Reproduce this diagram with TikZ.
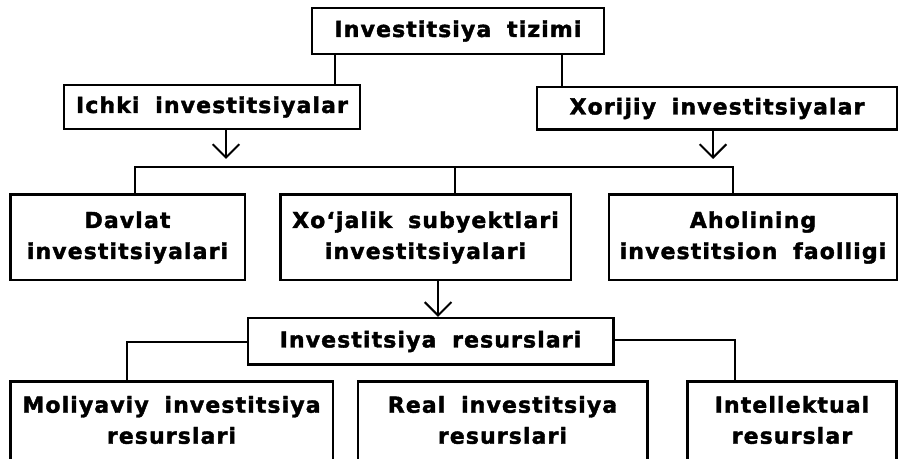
\documentclass[tikz,border=0pt]{standalone}
\usepackage{fontspec}
\setmainfont{DejaVu Sans}[LetterSpace=5,WordSpace=1.8,BoldFeatures={FakeBold=1.8}]
\usetikzlibrary{arrows.meta}

\begin{document}
\begin{tikzpicture}[x=0.75pt, y=-0.75pt, line width=1.5pt,
  box/.style={draw, line width=2pt, align=center, inner sep=0pt,
    font=\bfseries\fontsize{16.5}{23.25}\selectfont},
  lowbox/.style={box, anchor=north, inner ysep=11pt, text depth=80pt},
  arr/.style={-{Straight Barb[length=10pt,width=20pt]}}]
  \useasboundingbox (0,0) rectangle (900,459);
  \clip (0,0) rectangle (900,459);

  % first level
  \node[box, minimum width=219pt, minimum height=34.5pt] (tizim) at (458,31) {Investitsiya tizimi};
  \node[box, minimum width=222pt, minimum height=33pt] (ichki) at (212,107) {Ichki investitsiyalar};
  \node[box, minimum width=270pt, minimum height=32pt] (xorij) at (717,108.5) {Xorijiy investitsiyalar};

  % second level
  \node[box, minimum width=176pt, minimum height=64pt] (davlat) at (127.5,237.5) {Davlat\\investitsiyalari};
  \node[box, minimum width=218pt, minimum height=64pt] (xojal) at (425.5,237.5) {Xo‘jalik subyektlari\\investitsiyalari};
  \node[box, minimum width=216pt, minimum height=64pt] (aholi) at (753,237.5) {Aholining\\investitsion faolligi};

  % resources
  \node[box, minimum width=274pt, minimum height=35pt] (resurs) at (430.5,341.5) {Investitsiya resurslari};
  \node[lowbox, minimum width=242pt] (moliya) at (171.5,380) {Moliyaviy investitsiya\\resurslari};
  \node[lowbox, minimum width=217pt] (real) at (502.5,380) {Real investitsiya\\resurslari};
  \node[lowbox, minimum width=157pt] (intel) at (792,380) {Intellektual\\resurslar};

  \coordinate (t1) at (226,159);
  \coordinate (t2) at (713,159);
  \coordinate (h1) at (135,167);
  \coordinate (h2) at (733,167);
  \coordinate (h3) at (455,167);

  \draw (tizim.south -| 335,0) -- (ichki.north -| 335,0);
  \draw (tizim.south -| 562,0) -- (xorij.north -| 562,0);
  \draw[arr] (ichki.south -| t1) -- (t1);
  \draw[arr] (xorij.south -| t2) -- (t2);

  \draw (davlat.north -| h1) -- (h1) -- (h2) -- (aholi.north -| h2);
  \draw (h3) -- (xojal.north -| h3);

  \draw[arr] (xojal.south -| 438,0) -- (resurs.north -| 438,0);
  \draw (resurs.west |- 0,342) -| (moliya.north -| 127,0);
  \draw (resurs.east |- 0,340) -| (intel.north -| 735,0);
\end{tikzpicture}
\end{document}
